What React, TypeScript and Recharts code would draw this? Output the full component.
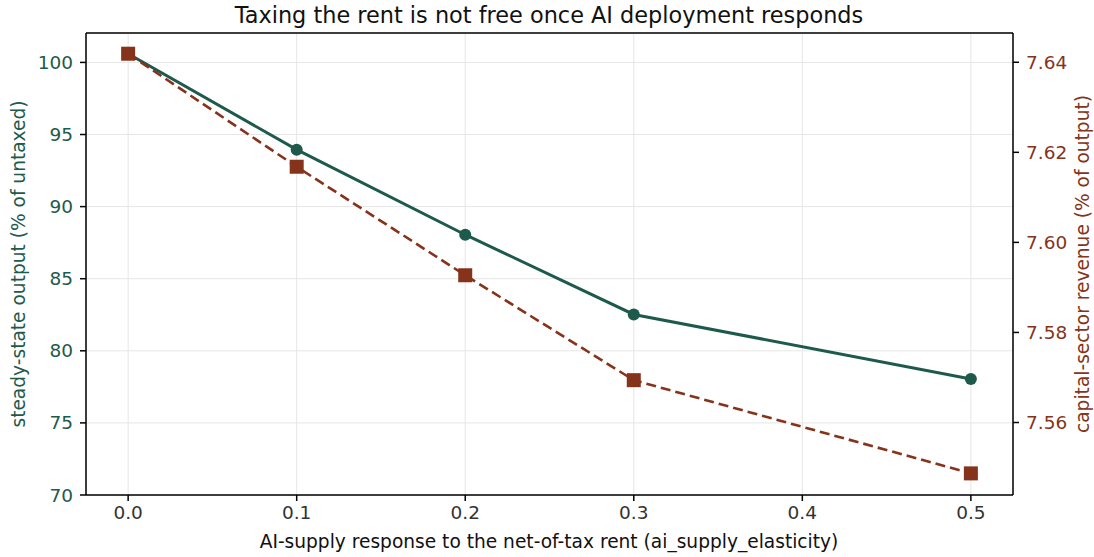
import React from "react";
import {
  LineChart,
  Line,
  XAxis,
  YAxis,
  CartesianGrid,
  ReferenceLine,
} from "recharts";

const elasticity = [0.0, 0.1, 0.2, 0.3, 0.5];
const outputPct = [100.6, 93.95, 88.05, 82.52, 78.05];
const revenuePct = [7.6419, 7.6168, 7.5927, 7.5694, 7.5487];

const xTicks = [0, 0.1, 0.2, 0.3, 0.4, 0.5];
const leftTicks = [70, 75, 80, 85, 90, 95, 100];
const rightTicks = [7.56, 7.58, 7.6, 7.62, 7.64];

const data = elasticity.map((e, i) => ({
  e,
  output: outputPct[i],
  revenue: revenuePct[i],
}));

const GREEN = "#1e5a4c";
const RUST = "#85331a";
const FONT = "DejaVu Sans, sans-serif";

const W = 1094;
const H = 557;

function Square(props: any) {
  const { cx, cy, index } = props;
  if (cx == null || cy == null) return null;
  return <rect key={index} x={cx - 7} y={cy - 7} width={14} height={14} fill={RUST} />;
}

export default function App() {
  return (
    <div style={{ position: "absolute", left: 0, top: 0, width: W, height: H, background: "#fff" }}>
      <LineChart
        width={W}
        height={H}
        data={data}
        margin={{ top: 33, right: 0, left: 0, bottom: 0 }}
        style={{ fontFamily: FONT }}
      >
        <CartesianGrid stroke="#e6e6e6" strokeWidth={1} yAxisId="left" />
        <XAxis
          dataKey="e"
          type="number"
          domain={[-0.025, 0.525]}
          ticks={xTicks}
          tickFormatter={(v: number) => v.toFixed(1)}
          height={62}
          stroke="#000"
          strokeWidth={1.5}
          tickSize={6}
          tickMargin={5}
          tick={{ fill: "#333", fontSize: 18.5, fontFamily: FONT }}
        />
        <YAxis
          yAxisId="left"
          orientation="left"
          domain={[70, 102.04]}
          ticks={leftTicks}
          width={86}
          stroke="#000"
          strokeWidth={1.5}
          tickSize={6}
          tickMargin={7}
          tick={{ fill: GREEN, fontSize: 18.5, fontFamily: FONT }}
          allowDataOverflow
        />
        <YAxis
          yAxisId="right"
          orientation="right"
          domain={[7.5439, 7.6465]}
          ticks={rightTicks}
          tickFormatter={(v: number) => v.toFixed(2)}
          width={81}
          stroke="#000"
          strokeWidth={1.5}
          tickSize={6}
          tickMargin={7}
          tick={{ fill: RUST, fontSize: 18.5, fontFamily: FONT }}
          allowDataOverflow
        />
        <ReferenceLine yAxisId="left" y={102.04} stroke="#000" strokeWidth={1.5} ifOverflow="extendDomain" />
        <Line
          yAxisId="left"
          dataKey="output"
          stroke={GREEN}
          strokeWidth={3}
          dot={{ r: 6, fill: GREEN, stroke: GREEN, strokeWidth: 0 }}
          activeDot={false}
          isAnimationActive={false}
        />
        <Line
          yAxisId="right"
          dataKey="revenue"
          stroke={RUST}
          strokeWidth={2.6}
          strokeDasharray="10 5"
          dot={<Square />}
          activeDot={false}
          isAnimationActive={false}
        />
      </LineChart>
      <svg
        width={W}
        height={H}
        style={{ position: "absolute", left: 0, top: 0, pointerEvents: "none" }}
        fontFamily={FONT}
      >
        <text x={549} y={23} textAnchor="middle" fontSize={22.4} fill="#111">
          Taxing the rent is not free once AI deployment responds
        </text>
        <text x={549} y={548} textAnchor="middle" fontSize={18.6} fill="#111">
          AI-supply response to the net-of-tax rent (ai_supply_elasticity)
        </text>
        <text
          x={0}
          y={0}
          textAnchor="middle"
          fontSize={18.6}
          fill={GREEN}
          transform="translate(25,264) rotate(-90)"
        >
          steady-state output (% of untaxed)
        </text>
        <text
          x={0}
          y={0}
          textAnchor="middle"
          fontSize={18.6}
          fill={RUST}
          transform="translate(1089,264) rotate(-90)"
        >
          capital-sector revenue (% of output)
        </text>
      </svg>
    </div>
  );
}
